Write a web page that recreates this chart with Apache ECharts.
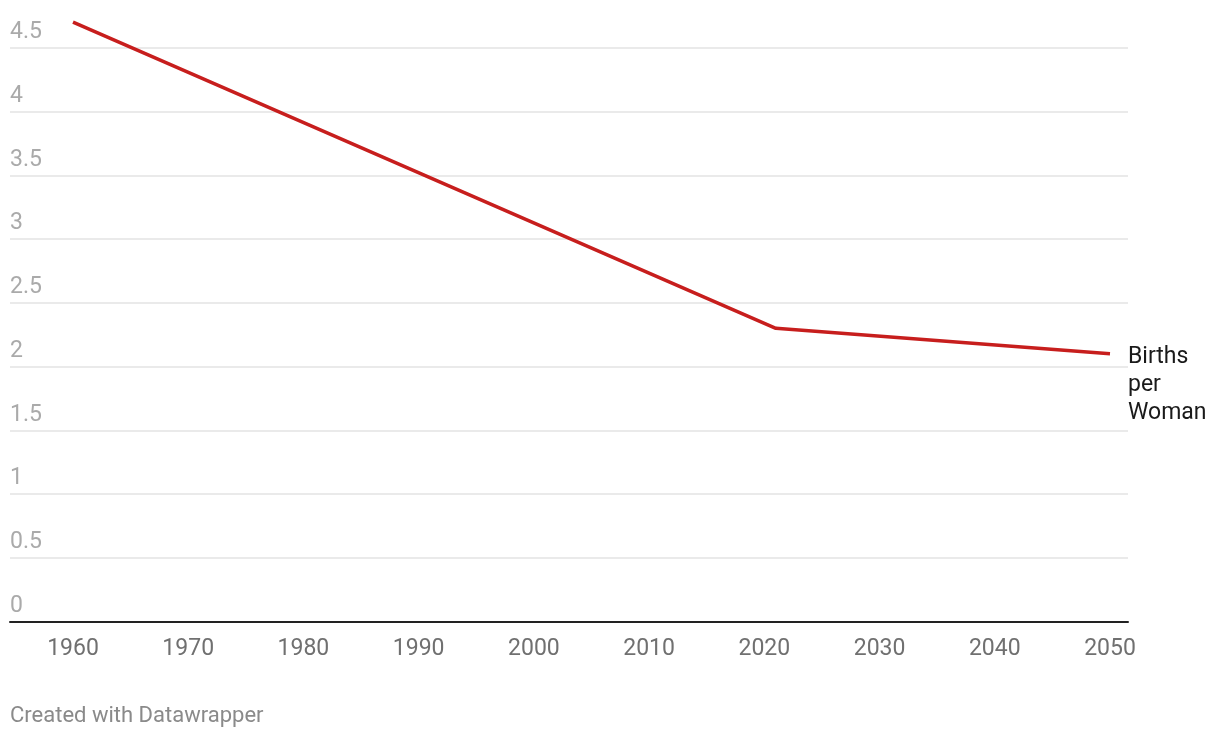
<!DOCTYPE html>
<html>
<head>
<meta charset="utf-8">
<script src="https://cdn.jsdelivr.net/npm/echarts@6/dist/echarts.min.js"></script>
<style>
html,body{margin:0;padding:0;background:#fff;}
#chart{width:1220px;height:738px;}
</style>
</head>
<body>
<div id="chart"></div>
<script>
const years = [1960, 2021, 2050];
const birthsPerWoman = [4.7, 2.3, 2.1];
const xTickLabels = [1960, 1970, 1980, 1990, 2000, 2010, 2020, 2030, 2040, 2050];
const seriesName = 'Births\nper\nWoman';
const footer = 'Created with Datawrapper';

const chart = echarts.init(document.getElementById('chart'), null, {renderer: 'canvas'});
chart.setOption({
  animation: false,
  backgroundColor: '#ffffff',
  textStyle: {fontFamily: 'Roboto'},
  title: {
    text: footer,
    left: 10,
    top: 705,
    padding: 0,
    textStyle: {fontFamily: 'Roboto', fontSize: 22, fontWeight: 'normal', color: '#8a8a8a'}
  },
  grid: {left: 10, right: 92, top: 47.7, bottom: 116.3, containLabel: false},
  xAxis: {
    type: 'value',
    min: 1954.532,
    max: 2051.562,
    axisLine: {show: true, onZero: false, lineStyle: {color: '#222', width: 2}},
    axisTick: {show: false},
    splitLine: {show: false},
    axisLabel: {
      customValues: xTickLabels,
      color: '#707070',
      fontSize: 23,
      fontFamily: 'Roboto',
      margin: 16,
      formatter: v => String(v)
    }
  },
  yAxis: {
    type: 'value',
    min: 0,
    max: 4.5,
    interval: 0.5,
    axisLine: {show: false},
    axisTick: {show: false},
    splitLine: {lineStyle: {color: '#e3e3e3', width: 1.5}},
    axisLabel: {
      inside: true,
      margin: 0,
      verticalAlign: 'bottom',
      padding: [0, 0, 4, 0],
      color: '#aaaaaa',
      fontSize: 23,
      fontFamily: 'Roboto',
      formatter: v => String(v)
    }
  },
  series: [{
    name: seriesName,
    type: 'line',
    clip: false,
    symbol: 'none',
    data: years.map((y, i) => [y, birthsPerWoman[i]]),
    lineStyle: {color: '#c71e1d', width: 3.5},
    endLabel: {
      show: true,
      formatter: seriesName,
      color: '#1a1a1a',
      fontSize: 23,
      lineHeight: 28,
      fontFamily: 'Roboto',
      align: 'left',
      verticalAlign: 'top',
      distance: 18,
      offset: [0, -11]
    }
  }]
});
</script>
</body>
</html>
